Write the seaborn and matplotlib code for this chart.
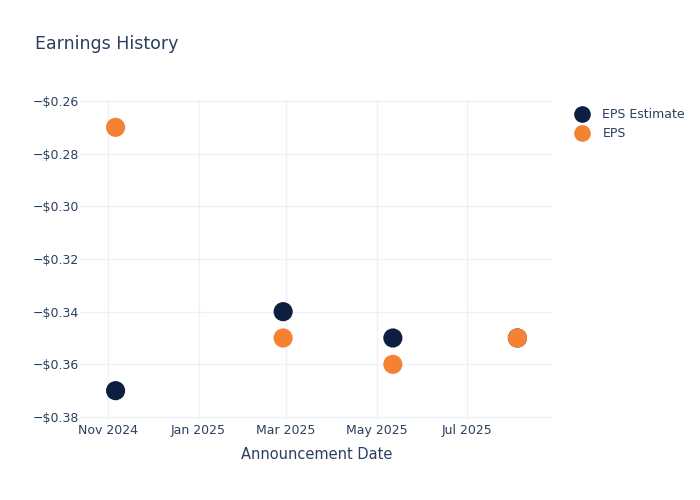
import pandas as pd
import matplotlib.pyplot as plt
import matplotlib.dates as mdates
import matplotlib.ticker as mticker
import seaborn as sns

# Announcement dates and EPS values
dates = ["2024-11-06", "2025-02-27", "2025-05-12", "2025-08-04"]
eps_estimate = [-0.37, -0.34, -0.35, -0.35]
eps_actual = [-0.27, -0.35, -0.36, -0.35]

df = pd.DataFrame({
    "Date": pd.to_datetime(dates * 2),
    "Value": eps_estimate + eps_actual,
    "Series": ["EPS Estimate"] * len(dates) + ["EPS"] * len(dates),
})

text_color = "#2a3f5f"
grid_color = "#eef2f8"

sns.set_theme(style="white")
plt.rcParams["font.family"] = ["DejaVu Sans"]

fig = plt.figure(figsize=(7, 5), dpi=100)
ax = fig.add_axes([80 / 700, 80 / 500, 473 / 700, 320 / 500])

sns.scatterplot(
    data=df, x="Date", y="Value", hue="Series",
    palette={"EPS Estimate": "#0d1f40", "EPS": "#f58232"},
    s=190, edgecolor="none", ax=ax, zorder=3,
)

ax.set_xlim(pd.Timestamp("2024-10-13"), pd.Timestamp("2025-08-28"))
ax.set_ylim(-0.38114, -0.25962)

ax.xaxis.set_major_locator(mdates.MonthLocator(bymonth=[1, 3, 5, 7, 11]))
ax.xaxis.set_major_formatter(mdates.DateFormatter("%b %Y"))
ax.yaxis.set_major_locator(mticker.MultipleLocator(0.02))
ax.yaxis.set_major_formatter(
    mticker.FuncFormatter(lambda v, p: f"\u2212${abs(v):.2f}" if v < 0 else f"${v:.2f}")
)

ax.grid(True, color=grid_color, linewidth=1)
for s in ax.spines.values():
    s.set_visible(False)
ax.tick_params(axis="both", colors=text_color, labelsize=9, length=0)
ax.tick_params(axis="x", pad=3)
ax.tick_params(axis="y", pad=1)

ax.set_xlabel("Announcement Date", color=text_color, fontsize=10.5, labelpad=7)
ax.set_ylabel("")

fig.text(35 / 700, 1 - 44 / 500, "Earnings History", color=text_color,
         fontsize=12.5, va="center", ha="left")

leg = ax.legend(loc="upper left", bbox_to_anchor=(1.025, 0.99), frameon=False,
                fontsize=9, labelcolor=text_color, handletextpad=0.6,
                borderaxespad=0, markerscale=1.0)
for h in leg.legend_handles:
    h.set_markersize(12)

fig.savefig("out.png", dpi=100)
